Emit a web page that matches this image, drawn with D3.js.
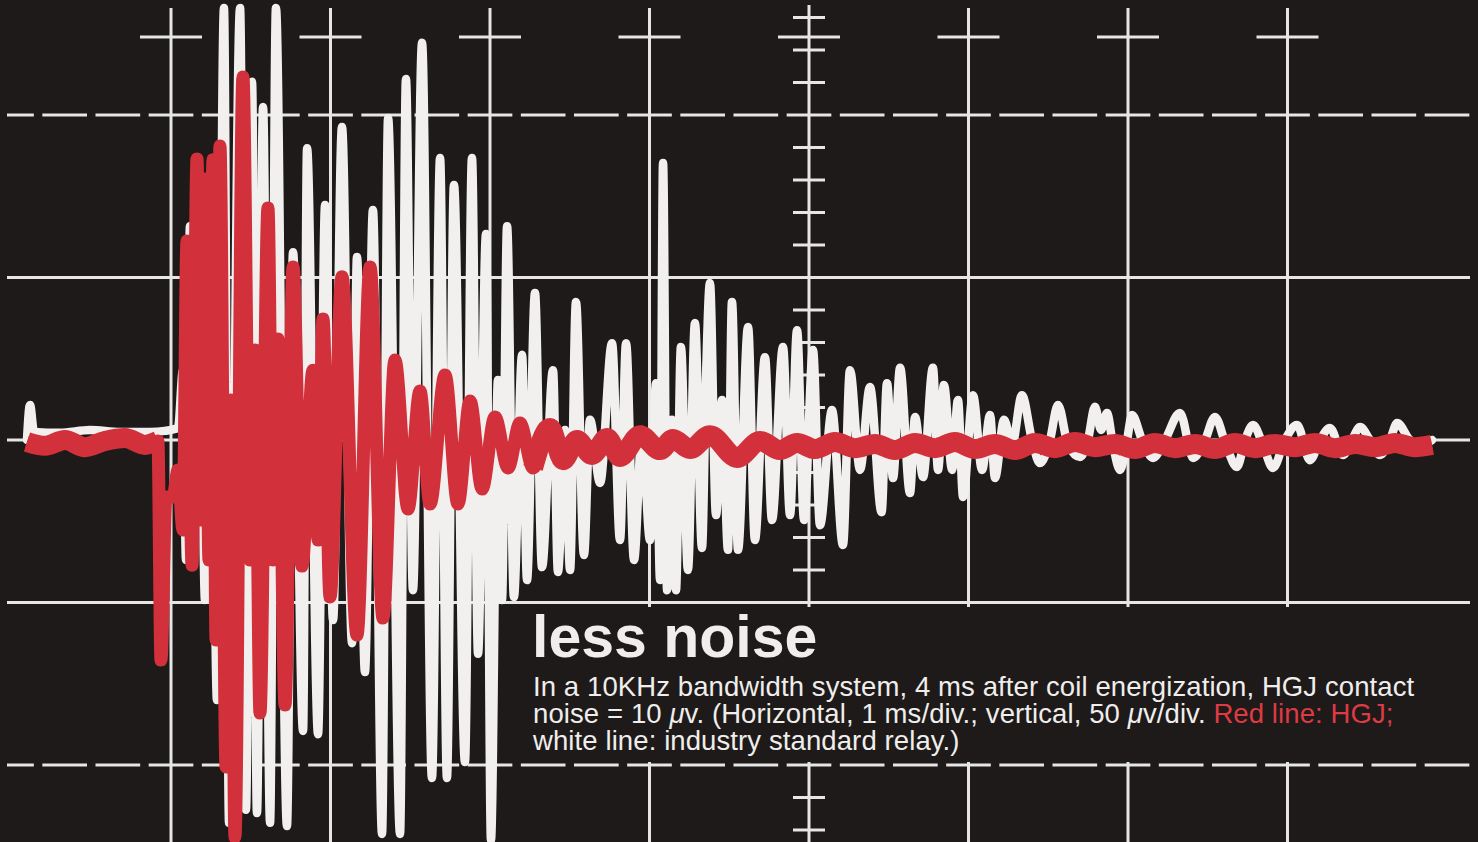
<!DOCTYPE html>
<html>
<head>
<meta charset="utf-8">
<script src="https://cdn.jsdelivr.net/npm/d3@7"></script>
<style>
    body {margin: 0; background: #1e1a19;}
    svg {display: block;}
    text {font-family: "Liberation Sans", Arial, Helvetica, sans-serif;}
</style>
</head>
<body>
<svg></svg>
<script>
var screen = {width: 1478, height: 842}

// time in ms, voltage in microvolts (1 ms/div, 50 uV/div)
var divTimes = [1, 2, 3, 4, 5, 6, 7, 8]
var divVolts = [100, 50, 0, -50, -100]
var dashedVolts = [100, -100]
var markerVolt = 124
var minorVolts = [130, 120, 110, 90, 80, 70, 60, 40, 30, 20, 10, -10, -20, -30, -40, -60, -70, -80, -90, -110, -120]

// industry standard relay (white trace)
var whiteT = [0.097, 0.116, 0.141, 0.304, 0.492, 0.680, 0.868, 0.962, 1.044,
    1.075, 1.094, 1.119, 1.150, 1.182, 1.213, 1.251, 1.288, 1.332, 1.364, 1.433, 1.470,
    1.508, 1.539, 1.577, 1.621, 1.658, 1.727, 1.765, 1.828, 1.853, 1.922, 1.966, 2.016,
    2.072, 2.135, 2.166, 2.216, 2.266, 2.323, 2.361, 2.436, 2.473, 2.517, 2.574, 2.636,
    2.687, 2.730, 2.774, 2.843, 2.887, 2.925, 2.975, 3.006, 3.050, 3.075, 3.107, 3.150,
    3.201, 3.232, 3.282, 3.326, 3.395, 3.426, 3.470, 3.502, 3.539, 3.589, 3.627, 3.690,
    3.765, 3.815, 3.853, 3.903, 3.953, 4.003, 4.041, 4.066, 4.085, 4.110, 4.141, 4.166,
    4.197, 4.241, 4.285, 4.329, 4.354, 4.379, 4.417, 4.455, 4.492, 4.517, 4.555, 4.618,
    4.661, 4.724, 4.768, 4.837, 4.881, 4.925, 4.969, 5.025, 5.069, 5.144, 5.213, 5.257,
    5.320, 5.382, 5.455, 5.489, 5.527, 5.571, 5.633, 5.665, 5.715, 5.777, 5.809, 5.846,
    5.897, 5.934, 5.966, 6.028, 6.085, 6.135, 6.166, 6.223, 6.273, 6.335, 6.398, 6.448,
    6.511, 6.561, 6.624, 6.699, 6.749, 6.793, 6.831, 6.868, 6.906, 6.950, 6.994, 7.025,
    7.088, 7.157, 7.232, 7.326, 7.408, 7.483, 7.545, 7.614, 7.683, 7.734, 7.784, 7.846,
    7.909, 7.984, 8.060, 8.141, 8.204, 8.266, 8.348, 8.404, 8.455, 8.517, 8.580, 8.643,
    8.687, 8.768, 8.831, 8.906]
var whiteV = [0, 10.8, 2.5, 2.2, 3.1, 2.5, 2.5, 2.8, 3.7,
    21.5, -36.9, 65.8, -24.6, 43.1, -49.2, 58.5, -80, 132.9, -117.8, 132.9, -113.8,
    110.2, -114.8, 102.5, -117.8, 132.9, -118.8, 57.8, -89.5, 89.8, -90.5, 72.3, -55.4,
    96.3, -62.5, 56.3, -71.4, 70.8, -121.2, 99.1, -121.2, 111.1, -46.2, 122.2, -104,
    86.8, -104, 78.5, -99.1, 86.8, -65.8, 63.4, -123.1, 18.5, -49.2, 65.8, -48.3,
    26.2, -43.1, 45.2, -39.1, 21.5, -40.6, 3.1, -40, 42.5, -35.4, 6.2, -13.2,
    29.8, -30.8, 29.8, -36.9, 3.1, -30.8, 17.5, -43.1, 85.2, -46.2, 6.2, -46.2,
    28.6, -40, 36, -33.2, 18.5, 48.3, -23.1, 12.3, -33.8, 42.5, -33.8, 34.8,
    -30.8, 25.5, -24.6, 28.6, -23.1, 33.8, -24.6, 27.7, -26.2, 9.2, -32.3, 21.5,
    -9.2, 16.3, -22.2, 17.5, -11.7, 22.2, -16.3, 7.1, -11.4, 22.2, -9.2, 16.9,
    -9.2, 12.3, -17.5, 13.8, -9.2, 7.7, -11.7, 6.2, -1.5, 13.8, 0, -7.1,
    0, 10.8, -1.5, -5.2, 0, 10.2, 3.1, 8.3, -1.5, -9.2, 0, 7.7,
    0, -5.5, 0, 8.3, -5.5, 0, 7.1, -1.5, -8.3, 0, 4.6, -1.5,
    -8.6, 0, 4.6, -6.2, 0, 3.7, -4.6, 0, 4, 0, -4.6, 0,
    5.2, 0, -1.5, 0]

// HGJ relay (red trace)
var redT = [0.097, 0.210, 0.335, 0.461, 0.586, 0.712, 0.837, 0.918, 0.937, 0.969, 1.013,
    1.044, 1.075, 1.100, 1.132, 1.163, 1.188, 1.213, 1.238, 1.263, 1.282, 1.307, 1.345,
    1.376, 1.401, 1.451, 1.495, 1.527, 1.558, 1.608, 1.639, 1.671, 1.715, 1.765, 1.821,
    1.890, 1.922, 1.953, 1.997, 2.072, 2.166, 2.248, 2.329, 2.404, 2.486, 2.561, 2.624,
    2.718, 2.799, 2.875, 2.950, 3.031, 3.113, 3.188, 3.270, 3.376, 3.458, 3.545, 3.639,
    3.734, 3.815, 3.940, 4.066, 4.147, 4.254, 4.379, 4.549, 4.693, 4.818, 4.925, 5.038,
    5.163, 5.288, 5.414, 5.539, 5.665, 5.790, 5.915, 6.041, 6.166, 6.292, 6.417, 6.542,
    6.668, 6.793, 6.918, 7.044, 7.169, 7.295, 7.420, 7.545, 7.671, 7.796, 7.922, 8.047,
    8.172, 8.298, 8.423, 8.549, 8.674, 8.799, 8.906]
var redV = [-0.6, -1.8, 0, -2.2, -0.3, 0.6, -1.5, -0.3, -67.7, -17.5, -17.5,
    -9.2, -27.7, 61.2, -38.5, 86.5, -24.6, 80.3, -36.9, 86.2, -61.5, 90.5, -100.6,
    12.3, -122.2, 111.7, -36.9, 27.7, -84, 71.4, -36.9, 31.1, -81.5, 53.2, -38.8,
    21.5, -30.8, 37.2, -48.3, 50.2, -60, 53.2, -54.8, 24.6, -21.2, 15.1, -19.7,
    20, -19.7, 12, -15.1, 7.1, -8.6, 5.2, -8.6, 3.7, -6.2, 0, -4.6,
    0.6, -5.2, 1.5, -3.1, 0.3, -2.8, 1.5, -5.5, -0.3, -3.1, -0.9, -2.8,
    -0.6, -2.5, -1.2, -3.1, -0.9, -2.5, -0.6, -2.8, -1.2, -3.1, -0.9, -2.5,
    -0.6, -2.2, -1.2, -2.8, -0.9, -2.5, -1.2, -2.8, -0.9, -2.5, -1.2, -2.2,
    -0.9, -2.5, -1.2, -2.2, -0.9, -2.2, -1.5]

var gridColor = "#e6e6e6"
var traceWhite = "#f1f0ee"
var traceRed = "#d2303a"
var bgColor = "#1e1a19"

var svg = d3.select("svg")
    .attr("width", screen.width)
    .attr("height", screen.height)

svg.append("rect")
    .attr("width", screen.width)
    .attr("height", screen.height)
    .attr("fill", bgColor)

var xScale = d3.scaleLinear()
    .domain([0, 10])
    .range([11.5, 1606.5])

var yScale = d3.scaleLinear()
    .domain([-100, 100])
    .range([765, 115])

var divPx = xScale(1) - xScale(0)
var lineLeft = 7
var lineRight = 1470

        //
        //GRATICULE
        //
var grid = svg.append("g").attr("id", "grid")
    .attr("stroke", gridColor)
    .attr("stroke-width", 3)

grid.selectAll(".vline")
    .data(divTimes)
    .enter()
    .append("line")
    .attr("class", "vline")
    .attr("x1", function(t) { return xScale(t) })
    .attr("x2", function(t) { return xScale(t) })
    .attr("y1", function(t) { return t == 5 ? 5 : 8 })
    .attr("y2", screen.height)

// dashes are centred on every vertical division line
var dashLen = divPx / 3 - 8.5
var dashStart = (xScale(1) - lineLeft) % (divPx / 3)
grid.selectAll(".hline")
    .data(divVolts)
    .enter()
    .append("line")
    .attr("class", "hline")
    .attr("x1", lineLeft)
    .attr("x2", lineRight)
    .attr("y1", function(v) { return yScale(v) })
    .attr("y2", function(v) { return yScale(v) })
    .attr("stroke-dasharray", function(v) {
        return dashedVolts.indexOf(v) >= 0 ? dashLen + " " + (divPx / 3 - dashLen) : null
    })
    .attr("stroke-dashoffset", function(v) {
        return dashedVolts.indexOf(v) >= 0 ? (dashLen / 2 - dashStart) : null
    })

grid.selectAll(".marker")
    .data(divTimes)
    .enter()
    .append("line")
    .attr("class", "marker")
    .attr("x1", function(t) { return xScale(t) - 31 })
    .attr("x2", function(t) { return xScale(t) + 31 })
    .attr("y1", yScale(markerVolt))
    .attr("y2", yScale(markerVolt))

grid.selectAll(".minor")
    .data(minorVolts)
    .enter()
    .append("line")
    .attr("class", "minor")
    .attr("x1", xScale(5) - 16)
    .attr("x2", xScale(5) + 16)
    .attr("y1", function(v) { return yScale(v) })
    .attr("y2", function(v) { return yScale(v) })

// the caption sits on a plain patch of screen
svg.append("rect")
    .attr("x", 518)
    .attr("y", 607)
    .attr("width", screen.width - 518)
    .attr("height", 155)
    .attr("fill", bgColor)

        //
        //TRACES
        //
var whiteData = whiteT.map(function(t, i) { return [t, whiteV[i]] })
var redData = redT.map(function(t, i) { return [t, redV[i]] })

var trace = d3.line()
    .x(function(d) { return xScale(d[0]) })
    .y(function(d) { return yScale(d[1]) })
    .curve(d3.curveMonotoneX)

svg.append("path")
    .datum(whiteData)
    .attr("d", trace)
    .attr("fill", "none")
    .attr("stroke", traceWhite)
    .attr("stroke-width", 8.5)
    .attr("stroke-linejoin", "round")
    .attr("stroke-linecap", "round")

svg.append("path")
    .datum(redData)
    .attr("d", trace)
    .attr("fill", "none")
    .attr("stroke", traceRed)
    .attr("stroke-width", 13)
    .attr("stroke-linejoin", "round")
    .attr("stroke-linecap", "butt")

// the quiet parts of the red trace are drawn as a broader band
var redQuiet = [
    redData.filter(function(d) { return d[0] <= 0.918 }),
    redData.filter(function(d) { return d[0] >= 3.27 })
]
svg.selectAll(".redBand")
    .data(redQuiet)
    .enter()
    .append("path")
    .attr("class", "redBand")
    .attr("d", trace)
    .attr("fill", "none")
    .attr("stroke", traceRed)
    .attr("stroke-width", 20)
    .attr("stroke-linejoin", "round")
    .attr("stroke-linecap", "butt")

        //
        //CAPTION
        //
var caption = svg.append("g").attr("fill", "#efeeec")

caption.append("text")
    .attr("x", 532)
    .attr("y", 657)
    .attr("font-size", 59)
    .attr("font-weight", "bold")
    .attr("letter-spacing", 0)
    .text("less noise")

var body = caption.append("text")
    .attr("x", 533)
    .attr("y", 696)
    .attr("font-size", 27.5)
    .attr("letter-spacing", 0.1)

body.append("tspan")
    .text("In a 10KHz bandwidth system, 4 ms after coil energization, HGJ contact")

var line2 = body.append("tspan").attr("x", 533).attr("dy", 27)
line2.append("tspan").text("noise = 10 ")
line2.append("tspan").attr("font-style", "italic").text("\u03bc")
line2.append("tspan").text("v. (Horizontal, 1 ms/div.; vertical, 50 ")
line2.append("tspan").attr("font-style", "italic").text("\u03bc")
line2.append("tspan").text("v/div. ")
line2.append("tspan").attr("fill", "#dd3a44").text("Red line: HGJ;")

body.append("tspan").attr("x", 533).attr("dy", 27)
    .text("white line: industry standard relay.)")
</script>
</body>
</html>
